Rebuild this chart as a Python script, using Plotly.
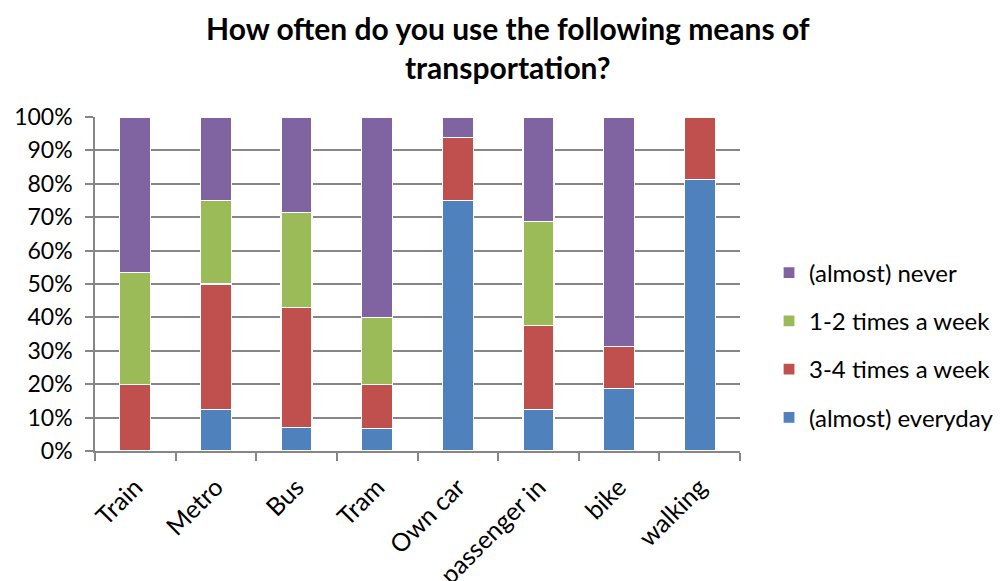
import plotly.graph_objects as go

categories = ["Train", "Metro", "Bus", "Tram", "Own car", "passenger in", "bike", "walking"]
everyday = [0, 12.5, 7.14, 6.67, 75, 12.5, 18.75, 81.25]
three_four = [20, 37.5, 35.71, 13.33, 18.75, 25, 12.5, 18.75]
one_two = [33.33, 25, 28.57, 20, 0, 31.25, 0, 0]
never = [46.67, 25, 28.57, 60, 6.25, 31.25, 68.75, 0]

series = [
    ("(almost) everyday", everyday, "#4F81BD"),
    ("3-4 times a week", three_four, "#C0504D"),
    ("1-2 times a week", one_two, "#9BBB59"),
    ("(almost) never", never, "#8064A2"),
]

font_family = "Lato, 'Open Sans', sans-serif"

fig = go.Figure()
for i, (name, vals, col) in enumerate(series):
    fig.add_trace(go.Bar(
        x=categories, y=vals, name=name, legendgroup=f"g{i}",
        legendrank=10 - i,
        marker=dict(color=col, line=dict(color="white", width=1.2)),
    ))

fig.update_layout(
    barmode="stack",
    bargap=0.615,
    width=1000, height=581,
    paper_bgcolor="white", plot_bgcolor="white",
    margin=dict(l=95, r=260, t=117, b=130, autoexpand=False),
    font=dict(family=font_family, color="black"),
    legend=dict(
        x=1.045, xanchor="left", y=0.317, yanchor="middle",
        traceorder="grouped", tracegroupgap=14,
        font=dict(size=24, family=font_family, color="black"),
        itemwidth=30,
    ),
    showlegend=True,
)

fig.add_annotation(
    text="<b>How often do you use the following means of<br>transportation?</b>",
    xref="paper", yref="paper", x=(508 - 95) / 645, y=1 + (117 - 8) / 334,
    xanchor="center", yanchor="top", showarrow=False,
    font=dict(size=30, family=font_family, color="black"),
)

fig.update_xaxes(
    type="category",
    showgrid=False,
    showline=True, linecolor="#868686", linewidth=1.5,
    ticks="outside", tickson="boundaries", ticklen=8, tickcolor="#868686", tickwidth=1.5,
    tickangle=-45, ticklabelstandoff=10,
    tickfont=dict(size=25, family=font_family, color="black"),
)
fig.update_yaxes(
    range=[0, 100], dtick=10, ticksuffix="%",
    showgrid=True, gridcolor="#868686", gridwidth=1.5,
    showline=True, linecolor="#868686", linewidth=1.5,
    ticks="outside", ticklen=8, tickcolor="#868686", tickwidth=1.5,
    ticklabelstandoff=8,
    tickfont=dict(size=23, family=font_family, color="black"),
    zeroline=False,
)

fig.write_html("out.html")
